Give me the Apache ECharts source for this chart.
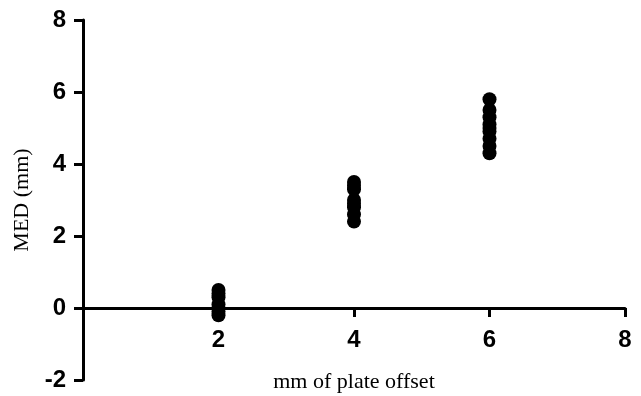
<!DOCTYPE html>
<html>
<head>
<meta charset="utf-8">
<script src="https://cdn.jsdelivr.net/npm/echarts@6/dist/echarts.min.js"></script>
<style>
  html, body { margin: 0; padding: 0; background: #fff; }
  #chart { width: 641px; height: 396px; }
</style>
</head>
<body>
<div id="chart"></div>
<script>
// plate offset groups (mm) and measured MED values (mm)
const offsets = [2, 4, 6]
const med2 = [0.5, 0.4, 0.3, 0.1, 0.0, -0.1, -0.2]
const med4 = [3.5, 3.4, 3.3, 3.0, 2.9, 2.8, 2.6, 2.4]
const med6 = [5.8, 5.5, 5.3, 5.1, 5.0, 4.9, 4.7, 4.5, 4.3]
const groups = [med2, med4, med6]

const points = []
groups.forEach((vals, i) => {
  vals.forEach(v => points.push([offsets[i], v]))
})

const chart = echarts.init(document.getElementById('chart'))

const tickFont = {
  color: '#000',
  fontFamily: 'Liberation Sans',
  fontWeight: 'bold',
  fontSize: 24
}

chart.setOption({
  animation: false,
  grid: { left: 83, right: 16, top: 20, bottom: 16, outerBoundsMode: 'none', containLabel: false },
  xAxis: {
    type: 'value',
    min: 0,
    max: 8,
    interval: 2,
    name: 'mm of plate offset',
    nameLocation: 'middle',
    nameGap: -9,
    nameTextStyle: { color: '#000', fontFamily: 'Liberation Serif', fontSize: 22 },
    axisLine: { onZero: true, lineStyle: { color: '#000', width: 3 } },
    axisTick: { show: true, length: 9, lineStyle: { color: '#000', width: 3 } },
    axisLabel: Object.assign({
      margin: -52,
      formatter: v => (v === 0 ? '' : String(v))
    }, tickFont),
    splitLine: { show: false }
  },
  yAxis: {
    type: 'value',
    min: -2,
    max: 8,
    interval: 2,
    name: 'MED (mm)',
    nameLocation: 'middle',
    nameGap: 50,
    nameTextStyle: { color: '#000', fontFamily: 'Liberation Serif', fontSize: 22 },
    axisLine: { show: true, lineStyle: { color: '#000', width: 3 } },
    axisTick: { show: true, length: 9, lineStyle: { color: '#000', width: 3 } },
    axisLabel: Object.assign({ margin: 17 }, tickFont),
    splitLine: { show: false }
  },
  series: [{
    type: 'scatter',
    symbol: 'circle',
    symbolSize: 14,
    itemStyle: { color: '#000', opacity: 1 },
    data: points
  }]
})
</script>
</body>
</html>
